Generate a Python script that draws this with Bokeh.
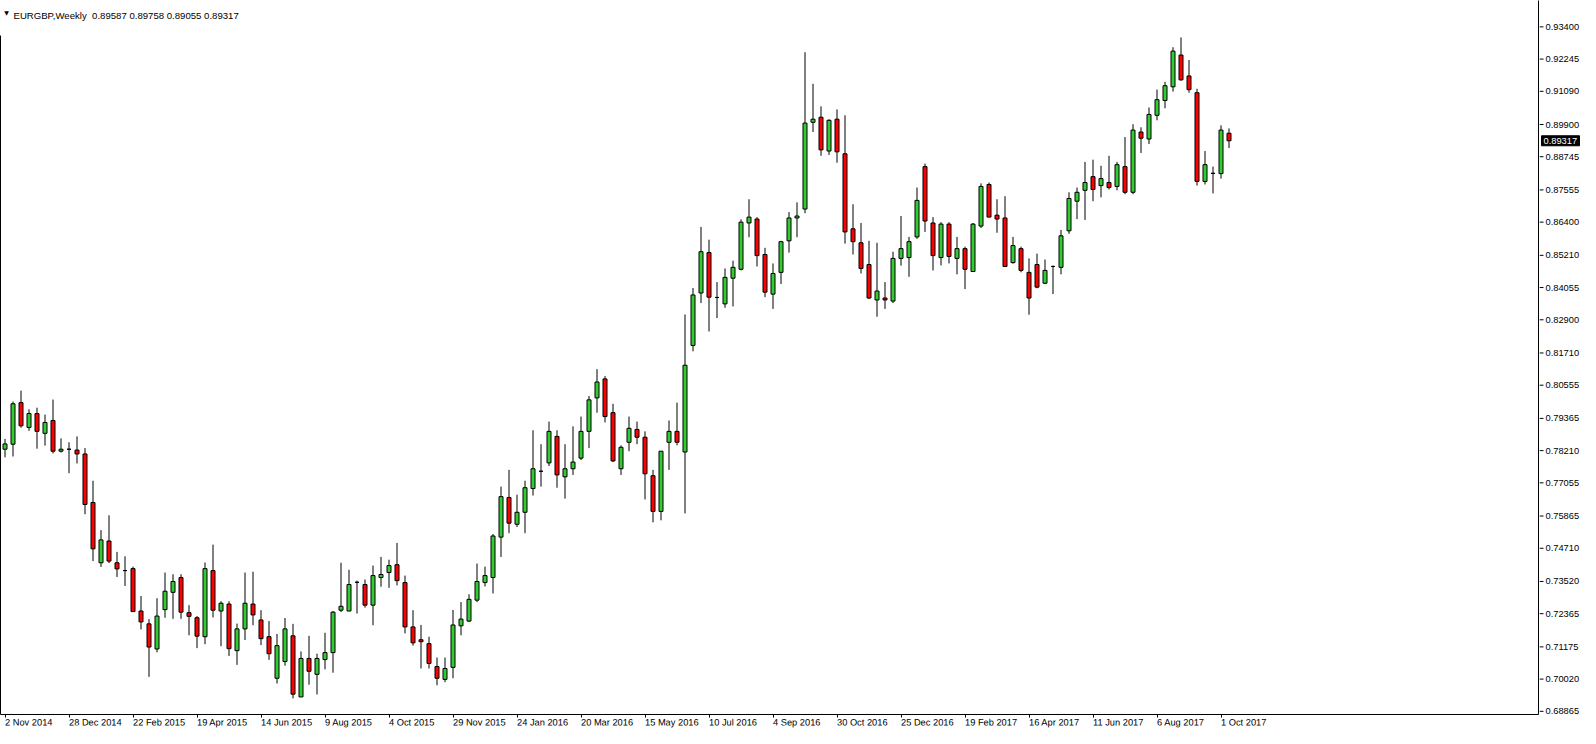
from bokeh.plotting import figure
from bokeh.layouts import row
from bokeh.models import (ColumnDataSource, Range1d, LinearAxis, FixedTicker, Label)
from bokeh.core.properties import value
from bokeh.embed import file_html
from bokeh.resources import INLINE

symbol = "EURGBP,Weekly"

opens = [0.7826, 0.7844, 0.7993, 0.7904, 0.7954, 0.7883, 0.7929, 0.7819, 0.7826, 0.7823,
         0.7809, 0.7635, 0.7419, 0.7497, 0.7419, 0.7391, 0.7398, 0.7246, 0.7200, 0.7110,
         0.7251, 0.7313, 0.7366, 0.7240, 0.7222, 0.7154, 0.7391, 0.7246, 0.7271, 0.7104,
         0.7182, 0.7271, 0.7214, 0.7154, 0.7005, 0.7065, 0.7157, 0.6938, 0.7076, 0.7019,
         0.7072, 0.7097, 0.7249, 0.7246, 0.7349, 0.7341, 0.7267, 0.7366, 0.7384, 0.7412,
         0.7348, 0.7189, 0.7143, 0.7129, 0.7047, 0.7001, 0.7044, 0.7193, 0.7210, 0.7285,
         0.7348, 0.7366, 0.7511, 0.7653, 0.7557, 0.7600, 0.7685, 0.7747, 0.7777, 0.7872,
         0.7727, 0.7756, 0.7794, 0.7890, 0.8010, 0.8078, 0.7957, 0.7756, 0.7851, 0.7897,
         0.7869, 0.7731, 0.7603, 0.7851, 0.7890, 0.7816, 0.8198, 0.8386, 0.8531, 0.8370,
         0.8347, 0.8439, 0.8471, 0.8637, 0.8651, 0.8524, 0.8382, 0.8460, 0.8573, 0.8655,
         0.8687, 0.8998, 0.9016, 0.8895, 0.9009, 0.8885, 0.8616, 0.8566, 0.8488, 0.8361,
         0.8368, 0.8357, 0.8510, 0.8513, 0.8587, 0.8839, 0.8637, 0.8513, 0.8633, 0.8510,
         0.8545, 0.8463, 0.8626, 0.8775, 0.8665, 0.8655, 0.8495, 0.8545, 0.8460, 0.8488,
         0.8421, 0.8481, 0.8478, 0.8609, 0.8715, 0.8754, 0.8803, 0.8771, 0.8782, 0.8768,
         0.8839, 0.8747, 0.8963, 0.8938, 0.9023, 0.9076, 0.9125, 0.9239, 0.9164, 0.9104,
         0.8786, 0.8815, 0.8814, 0.89587]

highs = [0.7863, 0.7997, 0.8036, 0.7969, 0.7975, 0.7950, 0.8004, 0.7865, 0.7851, 0.7872,
         0.7830, 0.7713, 0.7536, 0.7589, 0.7458, 0.7442, 0.7405, 0.7300, 0.7217, 0.7292,
         0.7384, 0.7378, 0.7378, 0.7267, 0.7228, 0.7420, 0.7484, 0.7281, 0.7281, 0.7201,
         0.7384, 0.7387, 0.7249, 0.7210, 0.7164, 0.7221, 0.7200, 0.7101, 0.7157, 0.7093,
         0.7168, 0.7246, 0.7419, 0.7394, 0.7355, 0.7359, 0.7409, 0.7440, 0.7430, 0.7490,
         0.7373, 0.7249, 0.7196, 0.7154, 0.7079, 0.7079, 0.7250, 0.7278, 0.7306, 0.7416,
         0.7405, 0.7522, 0.7692, 0.7752, 0.7663, 0.7713, 0.7894, 0.7844, 0.7925, 0.7894,
         0.7844, 0.7908, 0.7943, 0.8017, 0.8113, 0.8088, 0.7989, 0.7840, 0.7943, 0.7925,
         0.7890, 0.7752, 0.7819, 0.7929, 0.7993, 0.8309, 0.8404, 0.8623, 0.8577, 0.8425,
         0.8474, 0.8502, 0.8650, 0.8722, 0.8658, 0.8548, 0.8492, 0.8573, 0.8676, 0.8711,
         0.9249, 0.9136, 0.9055, 0.9009, 0.9044, 0.9023, 0.8704, 0.8637, 0.8573, 0.8566,
         0.8425, 0.8534, 0.8662, 0.8587, 0.8764, 0.8850, 0.8658, 0.8640, 0.8640, 0.8587,
         0.8552, 0.8637, 0.8779, 0.8782, 0.8722, 0.8733, 0.8587, 0.8552, 0.8510, 0.8527,
         0.8506, 0.8485, 0.8612, 0.8747, 0.8764, 0.8856, 0.8864, 0.8842, 0.8878, 0.8856,
         0.8945, 0.8991, 0.8980, 0.9051, 0.9115, 0.9143, 0.9267, 0.9302, 0.9221, 0.9118,
         0.8895, 0.8839, 0.8987, 0.89758]

lows = [0.7797, 0.7800, 0.7903, 0.7892, 0.7828, 0.7839, 0.7811, 0.7814, 0.7740, 0.7775,
        0.7593, 0.7425, 0.7404, 0.7418, 0.7368, 0.7336, 0.7244, 0.7180, 0.7010, 0.7098,
        0.7222, 0.7218, 0.7218, 0.7159, 0.7113, 0.7127, 0.7223, 0.7120, 0.7085, 0.7053,
        0.7142, 0.7195, 0.7124, 0.7071, 0.6986, 0.7050, 0.6933, 0.6938, 0.6982, 0.6947,
        0.7037, 0.7025, 0.7242, 0.7246, 0.7237, 0.7258, 0.7195, 0.7333, 0.7329, 0.7338,
        0.7166, 0.7122, 0.7040, 0.7040, 0.6980, 0.6991, 0.7005, 0.7159, 0.7207, 0.7278,
        0.7334, 0.7309, 0.7440, 0.7525, 0.7547, 0.7525, 0.7660, 0.7692, 0.7766, 0.7688,
        0.7649, 0.7734, 0.7787, 0.7830, 0.7957, 0.7922, 0.7780, 0.7734, 0.7819, 0.7844,
        0.7646, 0.7564, 0.7571, 0.7752, 0.7840, 0.7596, 0.8177, 0.8350, 0.8248, 0.8296,
        0.8333, 0.8338, 0.8467, 0.8586, 0.8481, 0.8371, 0.8329, 0.8418, 0.8531, 0.8586,
        0.8672, 0.8963, 0.8878, 0.8881, 0.8853, 0.8563, 0.8524, 0.8456, 0.8364, 0.8301,
        0.8329, 0.8350, 0.8484, 0.8444, 0.8580, 0.8605, 0.8467, 0.8485, 0.8492, 0.8453,
        0.8400, 0.8463, 0.8619, 0.8658, 0.8602, 0.8481, 0.8491, 0.8460, 0.8308, 0.8403,
        0.8418, 0.8382, 0.8453, 0.8598, 0.8651, 0.8648, 0.8715, 0.8729, 0.8757, 0.8754,
        0.8740, 0.8740, 0.8888, 0.8920, 0.9005, 0.9048, 0.9108, 0.9147, 0.9104, 0.8771,
        0.8775, 0.8743, 0.8796, 0.89055]

closes = [0.7845, 0.7989, 0.7910, 0.7954, 0.7890, 0.7922, 0.7819, 0.7826, 0.7826, 0.7809,
          0.7628, 0.7469, 0.7501, 0.7425, 0.7397, 0.7391, 0.7244, 0.7207, 0.7117, 0.7228,
          0.7317, 0.7352, 0.7242, 0.7227, 0.7156, 0.7398, 0.7249, 0.7274, 0.7111, 0.7182,
          0.7274, 0.7232, 0.7147, 0.7093, 0.7122, 0.7182, 0.6948, 0.7076, 0.7030, 0.7076,
          0.7097, 0.7242, 0.7263, 0.7341, 0.7349, 0.7267, 0.7373, 0.7377, 0.7409, 0.7355,
          0.7189, 0.7132, 0.7136, 0.7058, 0.7005, 0.7040, 0.7196, 0.7217, 0.7288, 0.7352,
          0.7373, 0.7515, 0.7656, 0.7561, 0.7600, 0.7688, 0.7756, 0.7747, 0.7890, 0.7734,
          0.7756, 0.7780, 0.7890, 0.8003, 0.8067, 0.7943, 0.7784, 0.7833, 0.7901, 0.7869,
          0.7738, 0.7603, 0.7819, 0.7890, 0.7851, 0.8127, 0.8379, 0.8534, 0.8371, 0.8370,
          0.8442, 0.8478, 0.8640, 0.8658, 0.8520, 0.8389, 0.8456, 0.8570, 0.8655, 0.8662,
          0.8995, 0.9009, 0.8899, 0.9005, 0.8892, 0.8605, 0.8570, 0.8474, 0.8368, 0.8393,
          0.8361, 0.8510, 0.8545, 0.8570, 0.8718, 0.8644, 0.8520, 0.8633, 0.8517, 0.8545,
          0.8471, 0.8633, 0.8768, 0.8658, 0.8651, 0.8481, 0.8556, 0.8467, 0.8368, 0.8407,
          0.8467, 0.8481, 0.8591, 0.8725, 0.8747, 0.8782, 0.8757, 0.8796, 0.8764, 0.8846,
          0.8747, 0.8970, 0.8941, 0.9026, 0.9079, 0.9129, 0.9253, 0.9150, 0.9115, 0.8786,
          0.8846, 0.8815, 0.8970, 0.89317]

date_labels = ["2 Nov 2014", "28 Dec 2014", "22 Feb 2015", "19 Apr 2015", "14 Jun 2015",
               "9 Aug 2015", "4 Oct 2015", "29 Nov 2015", "24 Jan 2016", "20 Mar 2016",
               "15 May 2016", "10 Jul 2016", "4 Sep 2016", "30 Oct 2016", "25 Dec 2016",
               "19 Feb 2017", "16 Apr 2017", "11 Jun 2017", "6 Aug 2017", "1 Oct 2017"]
label_step = 8  # one date label every 8 weekly bars

price_ticks = [0.93400, 0.92245, 0.91090, 0.89900, 0.88745, 0.87555, 0.86400, 0.85210,
               0.84055, 0.82900, 0.81710, 0.80555, 0.79365, 0.78210, 0.77055, 0.75865,
               0.74710, 0.73520, 0.72365, 0.71175, 0.70020, 0.68865]

# ---- layout constants ----
PX_PER_BAR = 8
FRAME_W = 1538
FRAME_H = 714
BOTTOM_H = 14
RIGHT_GAP = 1
SCALE_W = 1580 - FRAME_W - RIGHT_GAP
Y_TOP = 0.94345
Y_BOTTOM = 0.68751
PPX = (Y_TOP - Y_BOTTOM) / FRAME_H          # price per pixel
X_START = -0.5625
X_END = X_START + FRAME_W / PX_PER_BAR

FONT = "Liberation Sans"
FS = "9.3px"
BULL = "#32CD32"
BEAR = "#FF0000"

n = len(opens)
idx = list(range(n))
tops = [max(o, c) for o, c in zip(opens, closes)]
bottoms = [min(o, c) for o, c in zip(opens, closes)]
colors = [BULL if c >= o else BEAR for o, c in zip(opens, closes)]

src = ColumnDataSource(dict(x=idx, o=opens, h=highs, l=lows, c=closes,
                            top=tops, bottom=bottoms, color=colors))

p = figure(frame_width=FRAME_W, frame_height=FRAME_H,
           x_range=Range1d(X_START, X_END), y_range=Range1d(Y_BOTTOM, Y_TOP),
           output_backend="svg", toolbar_location=None,
           x_axis_location=None, y_axis_location=None,
           min_border_left=0, min_border_top=0, min_border_right=RIGHT_GAP,
           min_border_bottom=BOTTOM_H)
p.outline_line_color = None
p.background_fill_color = "white"
p.border_fill_color = "white"
for g in p.grid:
    g.visible = False

# wicks then bodies
p.segment(x0="x", y0="l", x1="x", y1="h", source=src, line_color="black", line_width=1)
p.vbar(x="x", top="top", bottom="bottom", width=0.5, source=src,
       fill_color="color", line_color="black", line_width=1)

# bottom time axis (labels anchored at their tick, extending to the right)
tick_pos = [i * label_step for i in range(len(date_labels))]
xaxis = LinearAxis(ticker=FixedTicker(ticks=tick_pos),
                   major_label_overrides={t: lab for t, lab in zip(tick_pos, date_labels)})
xaxis.axis_line_color = "black"
xaxis.major_tick_line_color = "black"
xaxis.major_tick_out = 3
xaxis.major_tick_in = 0
xaxis.minor_tick_line_color = None
xaxis.major_label_standoff = 5
xaxis.major_label_text_font = FONT
xaxis.major_label_text_font_size = FS
xaxis.major_label_text_color = "black"
xaxis.major_label_orientation = -0.0005
p.add_layout(xaxis, "below")

# right price-scale border line
raxis = LinearAxis(ticker=FixedTicker(ticks=[]))
raxis.axis_line_color = "black"
raxis.major_tick_out = 0
raxis.major_tick_in = 0
raxis.minor_tick_out = 0
raxis.minor_tick_in = 0
raxis.major_label_standoff = 0
p.add_layout(raxis, "right")

# left border line
laxis = LinearAxis(ticker=FixedTicker(ticks=[]),
                   bounds=(Y_BOTTOM, Y_TOP - 35 * PPX))
laxis.axis_line_color = "black"
laxis.major_tick_out = 0
laxis.major_tick_in = 0
laxis.minor_tick_out = 0
laxis.minor_tick_in = 0
laxis.major_label_standoff = 0
p.add_layout(laxis, "left")

# header
hdr_vals = "%.5f %.5f %.5f %.5f" % (opens[-1], highs[-1], lows[-1], closes[-1])
p.add_layout(Label(x=X_START + 13 / PX_PER_BAR, y=Y_TOP - 15 * PPX,
                   text=symbol + "\u00a0 " + hdr_vals, text_font=FONT,
                   text_font_size="9.6px",
                   text_color="black", text_baseline="alphabetic", text_align="left"))
p.add_layout(Label(x=X_START + 6 / PX_PER_BAR, y=Y_TOP - 12 * PPX,
                   text="\u25BC", text_font="DejaVu Sans", text_font_size="6px",
                   text_color="black", text_baseline="middle", text_align="center"))

# ---- price scale strip (tick marks, tick labels and current-price tag) ----
STRIP_H = FRAME_H + BOTTOM_H
q = figure(frame_width=SCALE_W, frame_height=STRIP_H,
           x_range=Range1d(0, SCALE_W), y_range=Range1d(Y_TOP - STRIP_H * PPX, Y_TOP),
           output_backend="svg", toolbar_location=None,
           x_axis_location=None, y_axis_location=None,
           min_border_left=0, min_border_top=0, min_border_right=0, min_border_bottom=0)
q.outline_line_color = None
q.background_fill_color = "white"
q.border_fill_color = "white"
for g in q.grid:
    g.visible = False

q.segment(x0=[0] * len(price_ticks), x1=[4] * len(price_ticks),
          y0=price_ticks, y1=price_ticks, line_color="black", line_width=1)
q.text(x=[6] * len(price_ticks), y=price_ticks, text=["%.5f" % v for v in price_ticks],
       text_font=value(FONT), text_font_size=value(FS), text_color="black",
       text_baseline="middle", text_align="left")

last = closes[-1]
q.quad(left=[2], right=[40], top=[last + 5 * PPX], bottom=[last - 5 * PPX],
       fill_color="black", line_color="black")
q.text(x=[4], y=[last], text=["%.5f" % last], text_font=value(FONT),
       text_font_size=value(FS), text_color="white",
       text_baseline="middle", text_align="left")

layout = row(p, q)
open("out.html", "w").write(file_html(layout, INLINE))
